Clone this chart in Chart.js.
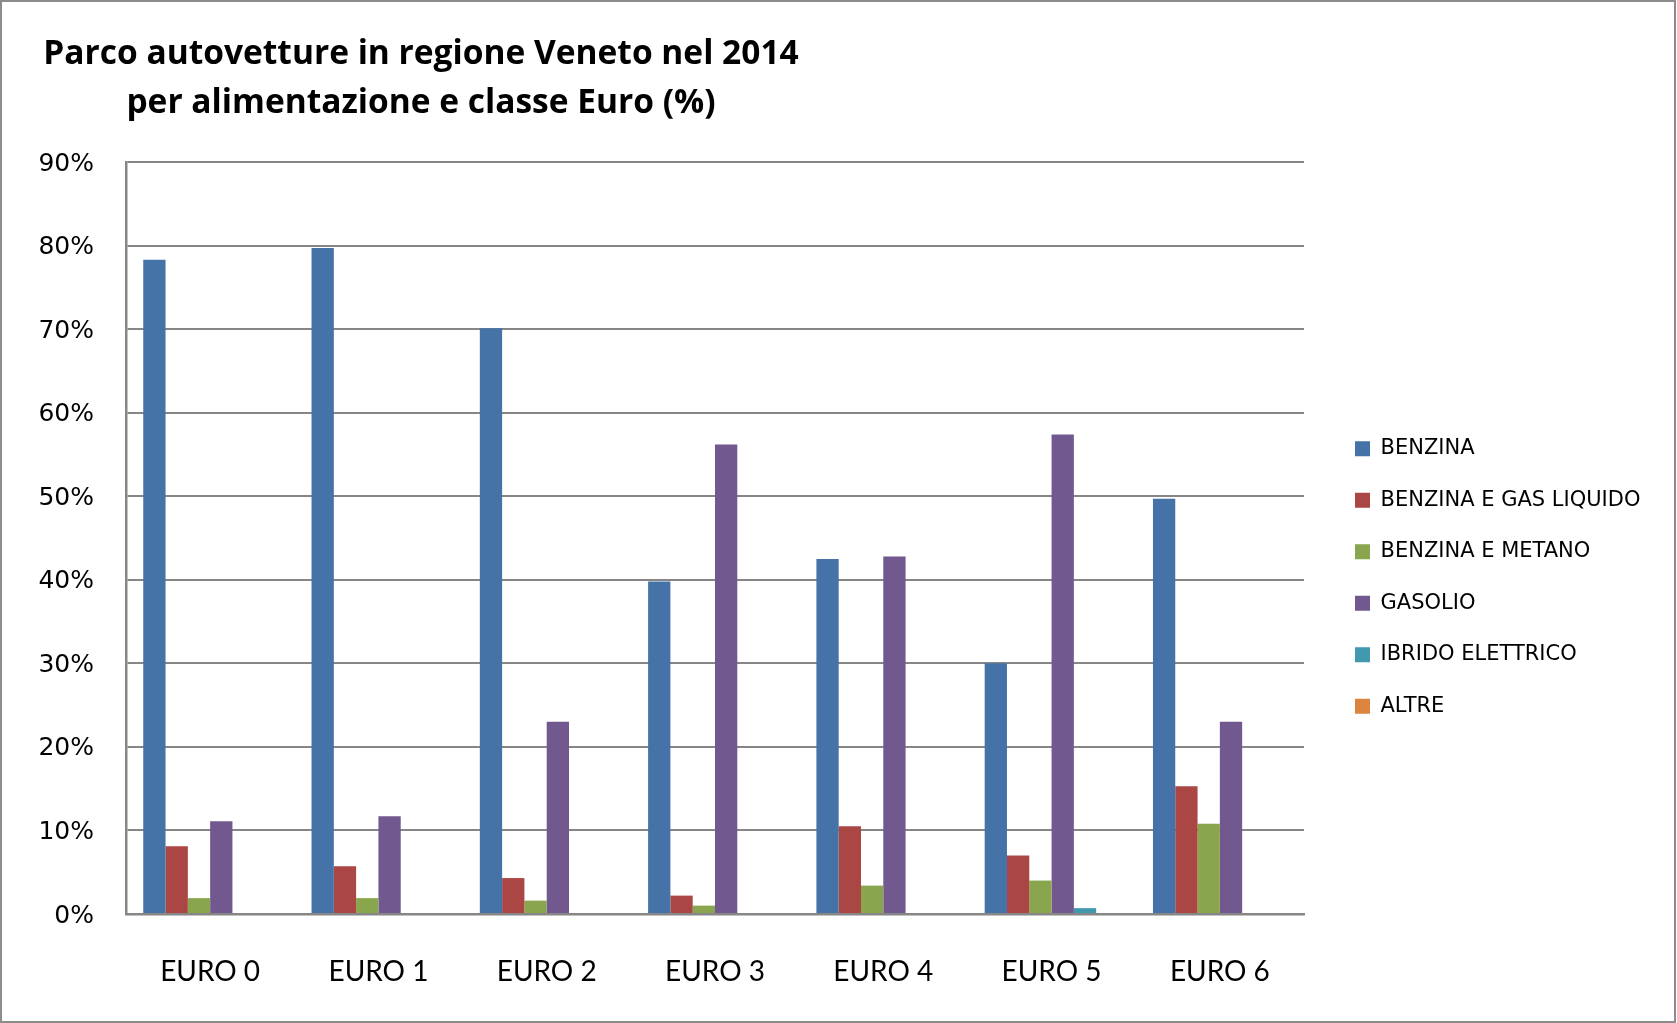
<!DOCTYPE html>
<html>
<head>
<meta charset="utf-8">
<script src="https://cdn.jsdelivr.net/npm/chart.js@4.4.1/dist/chart.umd.min.js"></script>
<style>
  html, body { margin: 0; padding: 0; background: #ffffff; }
  #wrap { width: 1677px; height: 1023px; position: relative; }
</style>
</head>
<body>
<div id="wrap"><canvas id="chart"></canvas></div>
<script>
// Euro classes on the category axis
const categories = ['EURO 0', 'EURO 1', 'EURO 2', 'EURO 3', 'EURO 4', 'EURO 5', 'EURO 6'];

// Fuel types (legend order)
const seriesNames = ['BENZINA', 'BENZINA E GAS LIQUIDO', 'BENZINA E METANO', 'GASOLIO', 'IBRIDO ELETTRICO', 'ALTRE'];

// Share of cars (%) per Euro class
const benzina = [78.3, 79.7, 70.1, 39.8, 42.5, 30.0, 49.7];
const benzinaGpl = [8.1, 5.7, 4.3, 2.2, 10.5, 7.0, 15.3];
const benzinaMetano = [1.9, 1.9, 1.6, 1.0, 3.4, 4.0, 10.8];
const gasolio = [11.1, 11.7, 23.0, 56.2, 42.8, 57.4, 23.0];
const ibridoElettrico = [0, 0, 0, 0, 0, 0.7, 0];
const altre = [0, 0, 0, 0, 0, 0, 0];

// Y axis tick values (%)
const yTicks = [0, 10, 20, 30, 40, 50, 60, 70, 80, 90];

const titleLines = ['Parco autovetture in regione Veneto nel 2014', 'per alimentazione e classe Euro (%)'];

const seriesValues = [benzina, benzinaGpl, benzinaMetano, gasolio, ibridoElettrico, altre];
const seriesColors = ['#4572A7', '#AA4643', '#89A54E', '#71588F', '#4198AF', '#DB843D'];

// Outer frame and two-line heading
const frameAndTitle = {
  id: 'frameAndTitle',
  afterDraw(chart) {
    const ctx = chart.ctx;
    ctx.save();
    ctx.strokeStyle = '#8c8c8c';
    ctx.lineWidth = 2;
    ctx.strokeRect(1, 1, chart.width - 3, chart.height - 2);
    ctx.fillStyle = '#000000';
    ctx.font = 'bold 33.5px "Open Sans"';
    ctx.textAlign = 'center';
    ctx.textBaseline = 'alphabetic';
    ctx.fillText(titleLines[0], 421, 64);
    ctx.fillText(titleLines[1], 421, 113);
    ctx.restore();
  }
};

function draw() {
  Chart.defaults.color = '#000000';
  const axisGray = '#868686';

  // Legend geometry: the plot ends at x=1304, legend swatches start at x=1355
  const legendFontSize = 21;
  const legendPad = 30.5;
  const legendBox = 15;
  const gapRight = 20.5;
  const measureCtx = document.createElement('canvas').getContext('2d');
  measureCtx.font = legendFontSize + 'px "DejaVu Sans"';
  const longest = Math.max(...seriesNames.map(n => measureCtx.measureText(n).width));
  const legendWidth = legendPad + legendBox + legendFontSize / 2 + longest + 10;
  const rightPad = Math.max(0, 1677 - 1304 - gapRight - legendWidth);

  new Chart(document.getElementById('chart'), {
    type: 'bar',
    data: {
      labels: categories,
      datasets: seriesNames.map((name, i) => ({
        label: name,
        data: seriesValues[i],
        backgroundColor: seriesColors[i],
        borderWidth: 0,
        categoryPercentage: 0.795,
        barPercentage: 1.0
      }))
    },
    options: {
      responsive: true,
      maintainAspectRatio: false,
      animation: false,
      layout: { padding: { top: 162, bottom: 30, left: 0, right: rightPad } },
      scales: {
        x: {
          grid: { display: false, drawTicks: false },
          border: { display: true, color: axisGray, width: 2.5 },
          ticks: { font: { family: 'Lato', size: 28 }, padding: 41, maxRotation: 0 },
          afterFit: (s) => { s.height = 79; }
        },
        y: {
          min: 0,
          max: 90,
          grid: { color: axisGray, lineWidth: 2, drawTicks: false },
          border: { display: true, color: axisGray, width: 2.5 },
          ticks: {
            font: { family: 'DejaVu Sans', size: 25 },
            padding: 32,
            labelOffset: 2,
            callback: (v) => v + '%'
          },
          afterBuildTicks: (s) => { s.ticks = yTicks.map(v => ({ value: v })); },
          afterFit: (s) => { s.width = 126; }
        },
        yGap: {
          type: 'linear',
          position: 'right',
          display: true,
          grid: { display: false, drawTicks: false },
          border: { display: false },
          ticks: { display: false },
          afterFit: (s) => { s.width = gapRight; }
        }
      },
      plugins: {
        title: { display: false },
        tooltip: { enabled: false },
        legend: {
          position: 'right',
          maxWidth: 600,
          labels: {
            boxWidth: legendBox,
            boxHeight: legendBox,
            padding: legendPad,
            font: { family: 'DejaVu Sans', size: legendFontSize },
            color: '#000000'
          }
        }
      }
    },
    plugins: [frameAndTitle]
  });
}

Promise.all([
  document.fonts.load('bold 33.5px "Open Sans"'),
  document.fonts.load('28px Lato'),
  document.fonts.load('25px "DejaVu Sans"'),
  document.fonts.load('21px "DejaVu Sans"')
]).then(draw, draw);
</script>
</body>
</html>
